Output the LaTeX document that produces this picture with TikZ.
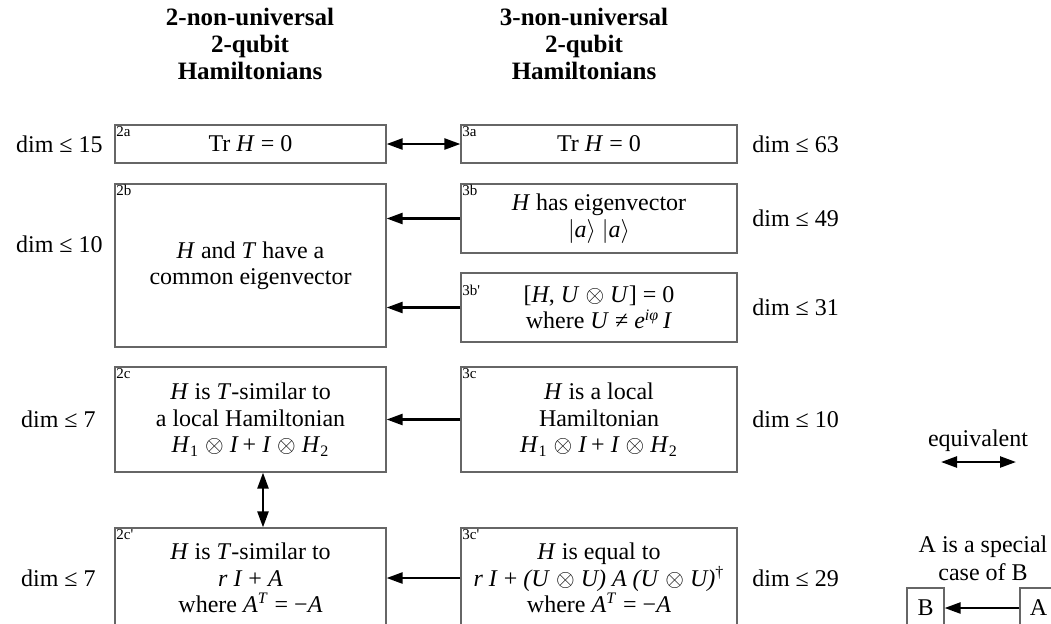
\documentclass[tikz,border=0pt]{standalone}
\usepackage{fontspec}
\setmainfont{Liberation Serif}
\usetikzlibrary{arrows.meta,positioning,calc}

\tikzset{
  cls/.style={draw=black!60, line width=0.6pt, align=center, inner sep=0pt,
    font=\fontsize{12}{13.2}\selectfont},
  lcol/.style={cls, minimum width=135.5pt},
  rcol/.style={cls, minimum width=138pt},
  tag/.style={anchor=north west, inner sep=0.8pt, font=\fontsize{7.5}{7.5}\selectfont},
  dimlbl/.style={inner sep=0pt, font=\fontsize{12}{14}\selectfont},
  head/.style={align=center, font=\fontsize{12.5}{13.5}\selectfont\bfseries},
  implies/.style={line width=1.2pt, -{Triangle[length=8pt,width=5.5pt]}},
  equiv/.style={line width=1.2pt, {Triangle[length=8pt,width=5.5pt]}-{Triangle[length=8pt,width=5.5pt]}},
}
\newcommand{\ti}[1]{\textit{#1}}
\newcommand{\pr}{\textquotesingle}

\begin{document}
\begin{tikzpicture}[x=0.5pt, y=-0.5pt]
  \useasboundingbox (0,0) rectangle (1051,623);
  \clip (0,0) rectangle (1051,623);

  % column heads
  \node[head] (hd2) at (250,44) {2-non-universal\\2-qubit\\Hamiltonians};
  \node[head] (hd3) at (584,44) {3-non-universal\\2-qubit\\Hamiltonians};

  % 2-non-universal classes
  \node[lcol, minimum height=19pt] (H2a) at (250.5,144) {Tr \ti{H} = 0};
  \node[lcol, minimum height=81.5pt] (H2b) at (250.5,265.5) {\ti{H} and \ti{T} have a\\common eigenvector};
  \node[lcol, minimum height=52.5pt] (H2c) at (250.5,419.5) {\ti{H} is \ti{T}-similar to\\a local Hamiltonian\\\ti{H}\textsubscript{1} $\otimes$ \ti{I}\,+ \ti{I} $\otimes$ \ti{H}\textsubscript{2}};
  \node[lcol, minimum height=50pt] (H2cp) at (250.5,578) {\ti{H} is \ti{T}-similar to\\\ti{r I} + \ti{A}\\where \ti{A}\textsuperscript{\ti{T}} = −\ti{A}};

  % 3-non-universal classes
  \node[rcol, minimum height=19pt] (H3a) at (599,144) {Tr \ti{H} = 0};
  \node[rcol, minimum height=34.5pt] (H3b) at (599,218.5) {\ti{H} has eigenvector\\$|$\ti{a}$\rangle$ $|$\ti{a}$\rangle$};
  \node[rcol, minimum height=34.5pt] (H3bp) at (599,307.5) {[\ti{H}, \ti{U} $\otimes$ \ti{U}] = 0\\where \ti{U} ≠ \ti{e}\textsuperscript{\ti{iφ}}\,\ti{I}};
  \node[rcol, minimum height=52.5pt] (H3c) at (599,419.5) {\ti{H} is a local\\Hamiltonian\\\ti{H}\textsubscript{1} $\otimes$ \ti{I}\,+ \ti{I} $\otimes$ \ti{H}\textsubscript{2}};
  \node[rcol, minimum height=50pt] (H3cp) at (599,578) {\ti{H} is equal to\\\ti{r I} + \ti{(U} $\otimes$ \ti{U) A (U} $\otimes$ \ti{U)}\textsuperscript{†}\\where \ti{A}\textsuperscript{\ti{T}} = −\ti{A}};

  % corner tags
  \node[tag] at (H2a.north west) {2a};
  \node[tag] at (H2b.north west) {2b};
  \node[tag] at (H2c.north west) {2c};
  \node[tag] at (H2cp.north west) {2c\pr};
  \node[tag] at (H3a.north west) {3a};
  \node[tag] at (H3b.north west) {3b};
  \node[tag, anchor=west] at ([yshift=-9pt]H3bp.north west) {3b\pr};
  \node[tag] at (H3c.north west) {3c};
  \node[tag] at (H3cp.north west) {3c\pr};

  % dimensions
  \node[dimlbl, anchor=east] (d2a) at (103,144) {dim ≤ 15};
  \node[dimlbl, anchor=east] (d2b) at (103,244) {dim ≤ 10};
  \node[dimlbl, anchor=east] (d2c) at (96,419.5) {dim ≤ 7};
  \node[dimlbl, anchor=east] (d2cp) at (96,578) {dim ≤ 7};
  \node[dimlbl, anchor=west] (d3a) at (752,144) {dim ≤ 63};
  \node[dimlbl, anchor=west] (d3b) at (752,218.5) {dim ≤ 49};
  \node[dimlbl, anchor=west] (d3bp) at (752,307.5) {dim ≤ 31};
  \node[dimlbl, anchor=west] (d3c) at (752,419.5) {dim ≤ 10};
  \node[dimlbl, anchor=west] (d3cp) at (752,578) {dim ≤ 29};

  % relations
  \draw[equiv] (H2a.east) -- (H3a.west);
  \draw[implies] (H3b.west) -- (H3b.west -| H2b.east);
  \draw[implies] (H3bp.west) -- (H3bp.west -| H2b.east);
  \draw[implies] (H3c.west) -- (H2c.east);
  \draw[implies] (H3cp.west) -- (H2cp.east);
  \draw[equiv] ([xshift=6.25pt]H2c.south) -- ([xshift=6.25pt]H2cp.north);

  % legend
  \node[dimlbl] (eqtxt) at (978,441) {equivalent};
  \coordinate (eqL) at (941,462);
  \coordinate (eqR) at (1016,462);
  \draw[equiv] (eqL) -- (eqR);
  \node[dimlbl, align=center] (spc) at (983,558) {A is a special\\case of B};
  \node[cls, minimum width=18.5pt, minimum height=20pt] (lgB) at (925.5,608) {B};
  \node[cls, minimum width=18.5pt, minimum height=20pt] (lgA) at (1038.5,608) {A};
  \draw[implies] (lgA) -- (lgB);
\end{tikzpicture}
\end{document}
